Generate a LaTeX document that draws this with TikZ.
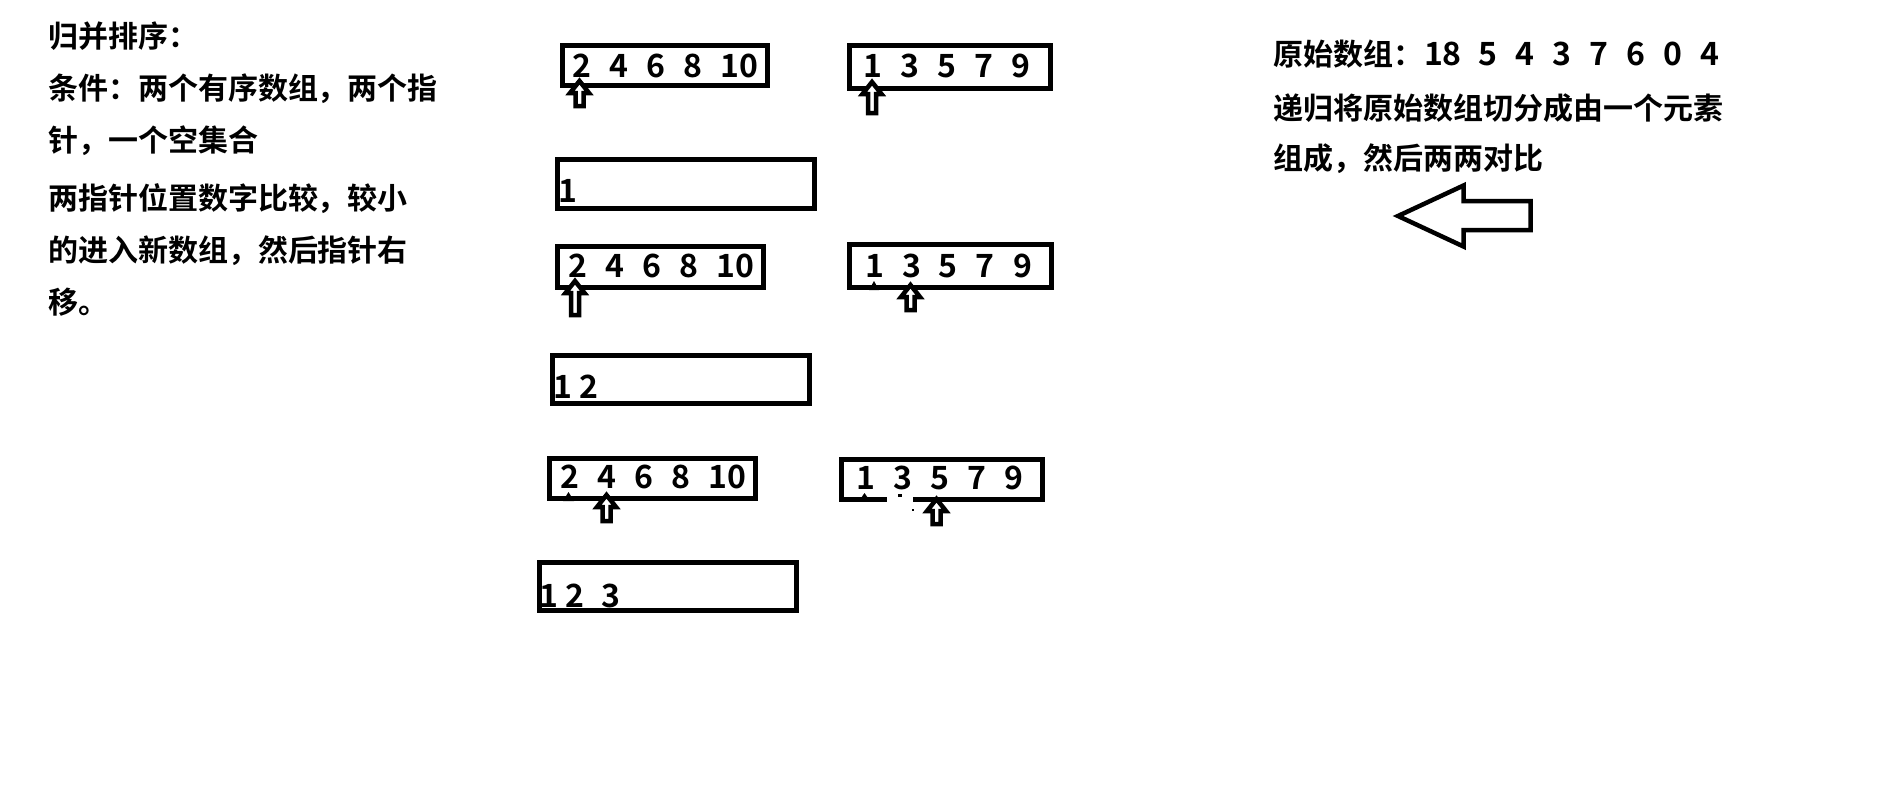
\documentclass[tikz,border=0pt]{standalone}
\usepackage{fontspec}
\newfontfamily\cjk{Noto Sans CJK SC Bold}
\newcommand\dg[1]{\makebox[37pt][l]{#1}}
\newcommand\dgw[2]{\makebox[#1pt][l]{#2}}
\begin{document}
\begin{tikzpicture}[x=1pt,y=-1pt,
  box/.style={draw=black, line width=5pt, line join=miter},
  txt/.style={anchor=base west, inner sep=0pt, outer sep=0pt, font=\cjk\fontsize{30}{36}\selectfont},
  num/.style={anchor=base west, inner sep=0pt, outer sep=0pt, font=\cjk\fontsize{32}{36}\selectfont},
  harrow/.style={draw=black, fill=white, line width=4.5pt, line join=miter},
  bigarrow/.style={draw=black, fill=white, line width=4.5pt, line join=miter},
  caret/.style={fill=black},
  pics/hup/.style={code={\draw[harrow] (0,0) -- (9.5,12) -- (4,12) -- (4,#1) -- (-4,#1) -- (-4,12) -- (-9.5,12) -- cycle;}}
]
\path[use as bounding box, fill=white] (0,0) rectangle (1898,806);

% left description
\node[txt] (t1) at (48,47.5) {归并排序：};
\node[txt] (t2) at (48,99.5) {条件：两个有序数组，两个指};
\node[txt] (t3) at (48,151.5) {针，一个空集合};
\node[txt] (t4) at (48,209.5) {两指针位置数字比较，较小};
\node[txt] (t5) at (48,261) {的进入新数组，然后指针右};
\node[txt] (t6) at (48,313) {移。};

% right description
\node[txt] (r1) at (1273,65) {原始数组：};
\node[num] (r1n) at (1424,65) {\dgw{54.6}{18}\dg{5}\dg{4}\dg{3}\dg{7}\dg{6}\dg{0}4};
\node[txt] (r2) at (1273,119.5) {递归将原始数组切分成由一个元素};
\node[txt] (r3) at (1273,169) {组成，然后两两对比};

% big hollow left arrow
\draw[bigarrow] (1530.5,201) -- (1463.5,201) -- (1463.5,185.5) -- (1398,216) -- (1463.5,246.5) -- (1463.5,230) -- (1530.5,230) -- cycle;

% step 1
\draw[box] (562,45) rectangle (767.5,85.5);
\node[num] (a1) at (572.4,77) {\dg{2}\dg{4}\dg{6}\dg{8}10};
\draw[box] (849,45) rectangle (1050.5,88.5);
\node[num] (b1) at (863.8,77) {\dg{1}\dg{3}\dg{5}\dg{7}9};
\pic at (579.5,81) {hup=25};
\pic at (872,82) {hup=31};
\draw[box] (557.5,159) rectangle (814.5,208);
\node[num] (m1) at (558,202) {1};

% step 2
\draw[box] (557.5,246) rectangle (763.5,287);
\node[num] (a2) at (568.9,277) {\dg{2}\dg{4}\dg{6}\dg{8}10};
\draw[box] (849,244) rectangle (1051.5,287);
\node[num] (b2) at (865,277) {\dg{1}\dg{3}\dg{5}\dg{7}9};
\fill[caret] (869,290) -- (874,281) -- (879,290) -- cycle;
\pic at (575,281) {hup=34};
\pic at (910.5,285) {hup=25};
\draw[box] (552.5,355) rectangle (809.5,403);
\node[num] (m2) at (553.3,398) {\dgw{26}{1}2};

% step 3
\draw[box] (549,458) rectangle (755.8,498.5);
\node[num] (a3) at (560.8,488) {\dg{2}\dg{4}\dg{6}\dg{8}10};
\fill[caret] (563,501) -- (568.5,492) -- (574,501) -- cycle;
\draw[box] (886.8,499.5) -- (841,499.5) -- (841,459) -- (1042.5,459) -- (1042.5,499.5) -- (912.7,499.5);
\node[num] (b3) at (856.8,489) {\dg{1}\dg{3}\dg{5}\dg{7}9};
\fill[caret] (859,501) -- (864.5,493) -- (870,501) -- cycle;
\fill[caret] (898,494) rectangle (902,496.5);
\fill[caret] (912,509) rectangle (914,511);
\pic at (606.5,495) {hup=26};
\pic at (936.5,499) {hup=25};
\draw[box] (539,562) rectangle (796.8,610.5);
\node[num] (m3) at (539.3,607) {\dgw{26}{1}\dgw{36}{2}3};
\end{tikzpicture}
\end{document}
